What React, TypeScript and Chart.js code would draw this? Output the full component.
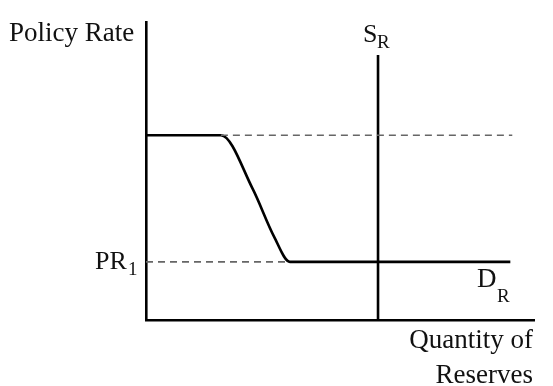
import React, { useEffect, useRef } from "react";
import { Chart, registerables } from "chart.js";

Chart.register(...registerables);

// Demand for reserves (D_R): flat at the upper rate, S-shaped drop, flat at PR1
const demandX = [0, 19.3, 27.5, 33.0, 37.1, 93.9];
const demandY = [62, 62, 44.0, 28.0, 19.5, 19.5];

// Supply of reserves (S_R): vertical
const supplyX = [59.8, 59.8];
const supplyY = [0, 88.9];

// Dashed guide at the upper rate
const upperGuideX = [19.3, 94.4];
const upperGuideY = [62, 62];

// Dashed guide at PR1
const lowerGuideX = [0, 37.1];
const lowerGuideY = [19.5, 19.5];

const yAxisLabel = "Policy Rate";
const xAxisLabelLines = ["Quantity of", "Reserves"];
const supplyLabel = ["S", "R"];
const demandLabel = ["D", "R"];
const rateLabel = ["PR", "1"];

const toPoints = (xs: number[], ys: number[]) => xs.map((x, i) => ({ x, y: ys[i] }));

const FONT = '"Liberation Serif", "Times New Roman", serif';

const labelPlugin = {
  id: "econLabels",
  afterDraw(chart: any) {
    const { ctx, chartArea, scales } = chart;
    const xs = scales.x;
    const ys = scales.y;
    ctx.save();
    ctx.fillStyle = "#111";
    ctx.textBaseline = "alphabetic";

    // y-axis label
    ctx.textAlign = "left";
    ctx.font = `27px ${FONT}`;
    ctx.fillText(yAxisLabel, 9, 41);

    // S_R
    const sx = xs.getPixelForValue(supplyX[0]);
    ctx.font = `26px ${FONT}`;
    ctx.fillText(supplyLabel[0], sx - 15, 42);
    ctx.font = `19px ${FONT}`;
    ctx.fillText(supplyLabel[1], sx - 1, 48);

    // PR_1
    const py = ys.getPixelForValue(lowerGuideY[0]);
    ctx.font = `26px ${FONT}`;
    ctx.fillText(rateLabel[0], 95, py + 7);
    ctx.font = `19px ${FONT}`;
    ctx.fillText(rateLabel[1], 128, py + 13);

    // D_R
    ctx.font = `27px ${FONT}`;
    ctx.fillText(demandLabel[0], 477, py + 25);
    ctx.font = `19px ${FONT}`;
    ctx.fillText(demandLabel[1], 497, py + 40);

    // x-axis label
    ctx.textAlign = "right";
    ctx.font = `27px ${FONT}`;
    ctx.fillText(xAxisLabelLines[0], chartArea.right - 1, chartArea.bottom + 28);
    ctx.fillText(xAxisLabelLines[1], chartArea.right - 1, chartArea.bottom + 63);
    ctx.restore();
  },
};

export default function App() {
  const ref = useRef<HTMLCanvasElement | null>(null);

  useEffect(() => {
    if (!ref.current) return;
    const solid = { borderColor: "#000", borderWidth: 2.6, pointRadius: 0, fill: false, clip: false as any };
    const dashed = {
      borderColor: "#666",
      borderWidth: 1.7,
      borderDash: [7, 5],
      pointRadius: 0,
      fill: false,
      clip: false as any,
    };
    const chart = new Chart(ref.current, {
      type: "line",
      data: {
        datasets: [
          { ...dashed, data: toPoints(upperGuideX, upperGuideY) },
          { ...dashed, data: toPoints(lowerGuideX, lowerGuideY) },
          { ...solid, data: toPoints(demandX, demandY), cubicInterpolationMode: "monotone" },
          { ...solid, data: toPoints(supplyX, supplyY) },
        ],
      },
      options: {
        animation: false,
        responsive: false,
        devicePixelRatio: 1,
        layout: { padding: { left: 146, right: 19, top: 22, bottom: 66 } },
        plugins: { legend: { display: false }, tooltip: { enabled: false } },
        scales: {
          x: {
            type: "linear",
            min: 0,
            max: 100,
            ticks: { display: false },
            grid: { display: false, drawTicks: false },
            border: { display: true, color: "#000", width: 2.6 },
          },
          y: {
            type: "linear",
            min: 0,
            max: 100,
            ticks: { display: false },
            grid: { display: false, drawTicks: false },
            border: { display: true, color: "#000", width: 2.6 },
          },
        },
      },
      plugins: [labelPlugin],
    });
    return () => chart.destroy();
  }, []);

  return (
    <div style={{ position: "absolute", left: 0, top: 0, width: 553, height: 386, background: "#fff" }}>
      <canvas ref={ref} width={553} height={386} style={{ display: "block", width: 553, height: 386 }} />
    </div>
  );
}
